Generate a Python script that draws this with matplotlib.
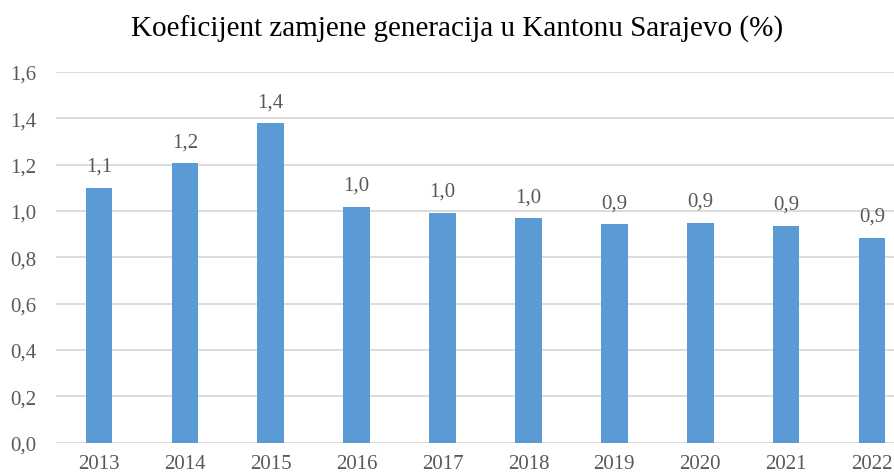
import matplotlib
matplotlib.use("Agg")
import matplotlib.pyplot as plt
import numpy as np

# data
years = ["2013", "2014", "2015", "2016", "2017", "2018", "2019", "2020", "2021", "2022"]
values = [1.10, 1.207, 1.38, 1.018, 0.992, 0.970, 0.944, 0.949, 0.936, 0.884]
yticks = [0.0, 0.2, 0.4, 0.6, 0.8, 1.0, 1.2, 1.4, 1.6]

plt.rcParams['font.family'] = ['Liberation Serif', 'DejaVu Serif']
txt = '#595959'

fig = plt.figure(figsize=(8.94, 4.77), dpi=100)
ax = fig.add_axes([56 / 894, 33.5 / 477, 859 / 894, 370.5 / 477])

x = np.arange(len(years))
bars = ax.bar(x, values, width=0.31, color='#5B9BD5', zorder=3)

for xi, v in zip(x, values):
    ax.annotate(f"{v:.1f}".replace('.', ','), (xi, v), xytext=(0, 8.5),
                textcoords='offset points', ha='center', va='bottom',
                fontsize=15, color=txt)

ax.set_xlim(-0.5, len(years) - 0.5)
ax.set_ylim(0, 1.6)
ax.set_yticks(yticks)
ax.set_yticklabels([f"{t:.1f}".replace('.', ',') for t in yticks])
ax.set_xticks(x)
ax.set_xticklabels(years)
ax.tick_params(axis='both', length=0, labelsize=15, colors=txt)
ax.tick_params(axis='y', pad=14)
ax.tick_params(axis='x', pad=8)
ax.yaxis.grid(True, color='#D9D9D9', linewidth=1.3, zorder=0)
for s in ax.spines.values():
    s.set_visible(False)

fig.text(457 / 894, 1 - 37 / 477, "Koeficijent zamjene generacija u Kantonu Sarajevo (%)",
         ha='center', va='baseline', fontsize=21, color='black')

fig.savefig("out.png", dpi=100)
